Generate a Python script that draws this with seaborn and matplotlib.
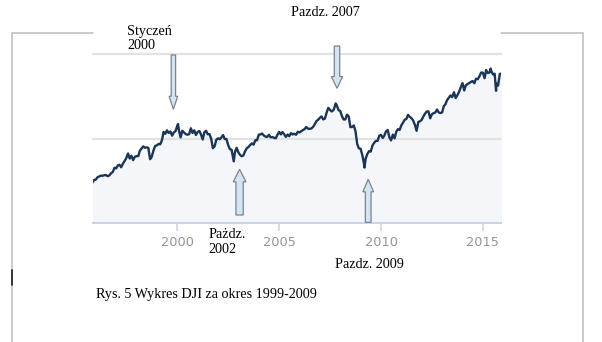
import matplotlib
matplotlib.use("Agg")
import matplotlib.pyplot as plt
from matplotlib.patches import Polygon
from matplotlib.lines import Line2D
import seaborn as sns
import pandas as pd

# ---------------- data (DJI, monthly closes + notable extremes) ----------------
start_month = "1995-10-31"
close_1995 = [4756, 5074, 5117]
close_1996 = [5395, 5485, 5587, 5569, 5643, 5655, 5529, 5616, 5882, 6029, 6522, 6448]
close_1997 = [6813, 6878, 6584, 7009, 7331, 7673, 8223, 7622, 7945, 7442, 7823, 7908]
close_1998 = [7907, 8546, 8800, 9063, 8900, 8952, 8883, 7539, 7843, 8592, 9117, 9181]
close_1999 = [9359, 9307, 9786, 10789, 10560, 10971, 10655, 10829, 10337, 10730, 10878, 11497]
close_2000 = [10941, 10128, 10922, 10734, 10522, 10448, 10522, 11215, 10651, 10971, 10415, 10788]
close_2001 = [10887, 10495, 9879, 10735, 10912, 10502, 10523, 9950, 8848, 9075, 9852, 10022]
close_2002 = [9920, 10106, 10404, 9946, 9925, 9243, 8737, 8664, 7592, 8397, 8896, 8342]
close_2003 = [8054, 7891, 7992, 8480, 8850, 8985, 9234, 9416, 9275, 9801, 9782, 10454]
close_2004 = [10488, 10584, 10358, 10226, 10188, 10435, 10140, 10174, 10080, 10027, 10428, 10783]
close_2005 = [10490, 10766, 10504, 10193, 10467, 10275, 10641, 10482, 10569, 10440, 10806, 10718]
close_2006 = [10865, 10993, 11109, 11367, 11168, 11150, 11186, 11381, 11679, 12081, 12221, 12463]
close_2007 = [12622, 12269, 12354, 13063, 13628, 13409, 13212, 13358, 13896, 13930, 13372, 13265]
close_2008 = [12650, 12266, 12263, 12820, 12638, 11350, 11378, 11544, 10851, 9325, 8829, 8776]
close_2009 = [8001, 7063, 7609, 8168, 8500, 8447, 9172, 9496, 9712, 9713, 10345, 10428]
close_2010 = [10067, 10325, 10857, 11009, 10137, 9774, 10466, 10015, 10788, 11118, 11006, 11578]
close_2011 = [11892, 12226, 12320, 12811, 12570, 12414, 12143, 11614, 10913, 11955, 12046, 12218]
close_2012 = [12633, 12952, 13212, 13214, 12393, 12880, 13009, 13091, 13437, 13096, 13026, 13104]
close_2013 = [13861, 14054, 14579, 14840, 15116, 14910, 15500, 14810, 15130, 15546, 16086, 16577]
close_2014 = [15699, 16322, 16458, 16581, 16717, 16827, 16563, 17098, 17043, 17391, 17828, 17823]
close_2015 = [17165, 18133, 17776, 17841, 18011, 17620, 17690, 16528, 16285, 17664, 17720]

extreme_dates = ["2000-01-14", "2002-10-09", "2007-10-09", "2009-03-09", "2015-05-19", "2015-08-25"]
extreme_values = [11723, 7286, 14165, 6547, 18312, 15666]

tick_years = [2000, 2005, 2010, 2015]
x_start, x_end = "1995-11-06", "2015-11-18"
grid_values = [10000, 20000]

annot_jan2000 = "Styczeń\n2000"
annot_oct2007 = "Pazdz. 2007"
annot_oct2002 = "Pażdz.\n2002"
annot_oct2009 = "Pazdz. 2009"
caption = "Rys. 5 Wykres DJI za okres 1999-2009"

# ---------------- build table ----------------
monthly = (close_1995 + close_1996 + close_1997 + close_1998 + close_1999 + close_2000
           + close_2001 + close_2002 + close_2003 + close_2004 + close_2005 + close_2006
           + close_2007 + close_2008 + close_2009 + close_2010 + close_2011 + close_2012
           + close_2013 + close_2014 + close_2015)
month_idx = pd.date_range(start_month, periods=len(monthly), freq="ME")
df = pd.concat([
    pd.DataFrame({"date": month_idx, "value": monthly}),
    pd.DataFrame({"date": pd.to_datetime(extreme_dates), "value": extreme_values}),
]).sort_values("date").reset_index(drop=True)

# ---------------- figure ----------------
W, H = 602, 342
sns.set_theme(style="white")
fig = plt.figure(figsize=(W / 100, H / 100), dpi=100)
fig.patch.set_facecolor("white")

ax_left, ax_right = 92.7, 500.8
ax_bottom_px = 222.7
ymax = 20500
px_per_unit = 84.2 / 10000
ax_top_px = ax_bottom_px - ymax * px_per_unit
ax = fig.add_axes([ax_left / W, 1 - ax_bottom_px / H,
                   (ax_right - ax_left) / W, (ax_bottom_px - ax_top_px) / H])
ax.set_facecolor("white")

ax.fill_between(df["date"], df["value"], 0, color="#f4f6f9", zorder=1, linewidth=0)
for gv in grid_values:
    ax.axhline(gv, color="#e2e2e2", linewidth=1.6, zorder=2, clip_on=False)
sns.lineplot(data=df, x="date", y="value", ax=ax, color="#1b3556", linewidth=1.7,
             zorder=3, sort=True, estimator=None)

ax.set_xlim(pd.Timestamp(x_start), pd.Timestamp(x_end))
ax.set_ylim(0, ymax)
ax.set_xlabel("")
ax.set_ylabel("")
ax.set_yticks([])
ax.set_xticks([pd.Timestamp(f"{y}-01-01") for y in tick_years])
ax.set_xticklabels([str(y) for y in tick_years])
for s in ["top", "left", "right"]:
    ax.spines[s].set_visible(False)
ax.spines["bottom"].set_color("#c6d6e6")
ax.spines["bottom"].set_linewidth(1.5)
ax.tick_params(axis="x", bottom=True, length=5.8, width=1.1, color="#c6d6e6",
               pad=4.0, labelsize=9.3, labelcolor="#959595")
for lbl in ax.get_xticklabels():
    lbl.set_fontfamily("DejaVu Sans")

# ---------------- page decorations (figure pixels) ----------------
def fx(x):
    return x / W

def fy(y):
    return 1 - y / H

border = "#bdbdbd"
for xs, ys in [([11.7, 92.7], [33.3, 33.3]), ([11.7, 11.7], [33.3, 342]),
               ([500.8, 582.5], [33.3, 33.3]), ([582.5, 582.5], [33.3, 342])]:
    fig.add_artist(Line2D([fx(v) for v in xs], [fy(v) for v in ys],
                          color=border, linewidth=1.1))
fig.add_artist(Line2D([fx(11.7), fx(11.7)], [fy(270), fy(284.5)], color="#2a2a2a", linewidth=1.3))


def block_arrow(cx, tail, tip, shaft_w, head_w, head_len):
    d = 1 if tip > tail else -1
    base = tip - d * head_len
    pts = [(cx - shaft_w / 2, tail), (cx + shaft_w / 2, tail), (cx + shaft_w / 2, base),
           (cx + head_w / 2, base), (cx, tip), (cx - head_w / 2, base), (cx - shaft_w / 2, base)]
    poly = Polygon([(fx(x), fy(y)) for x, y in pts], closed=True, transform=fig.transFigure,
                   facecolor="#d3e5f3", edgecolor="#7d8389", linewidth=0.9, zorder=10)
    fig.add_artist(poly)


block_arrow(173.4, 55.0, 109.3, 4.4, 8.6, 13.0)
block_arrow(337.0, 46.0, 88.3, 5.4, 11.3, 11.8)
block_arrow(239.6, 215.0, 169.3, 7.3, 12.7, 12.5)
block_arrow(368.2, 222.3, 179.3, 5.7, 10.7, 12.5)

serif = ["Liberation Serif", "DejaVu Serif"]
fs = 10.2
fig.text(fx(127.3), fy(38.5), annot_jan2000, ha="left", va="center", fontsize=fs,
         family=serif, linespacing=1.15, color="black")
fig.text(fx(291.0), fy(13.0), annot_oct2007, ha="left", va="center", fontsize=fs,
         family=serif, color="black")
fig.text(fx(208.3), fy(242.0), annot_oct2002, ha="left", va="center", fontsize=fs,
         family=serif, linespacing=1.2, color="black")
fig.text(fx(335.0), fy(264.5), annot_oct2009, ha="left", va="center", fontsize=fs,
         family=serif, color="black")
fig.text(fx(96.0), fy(294.5), caption, ha="left", va="center", fontsize=fs,
         family=serif, color="black")

fig.savefig("out.png", dpi=100, facecolor="white")
